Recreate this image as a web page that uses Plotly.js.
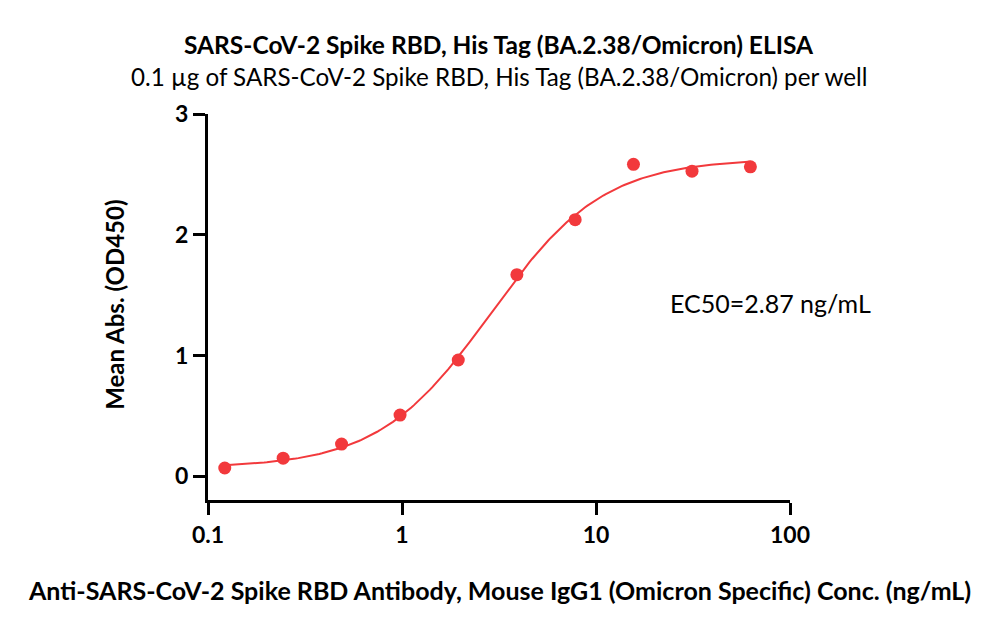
<!DOCTYPE html>
<html>
<head>
<meta charset="utf-8">
<script src="https://cdn.plot.ly/plotly-3.0.1.min.js"></script>
<style>html,body{margin:0;padding:0;background:#fff;}#chart{width:1000px;height:632px;}</style>
</head>
<body>
<div id="chart"></div>
<script>
// Measured data (concentration in ng/mL, mean OD450)
const concentrations = [0.122, 0.244, 0.488, 0.977, 1.95, 3.91, 7.81, 15.6, 31.25, 62.5];
const meanAbs = [0.069, 0.15, 0.267, 0.507, 0.963, 1.67, 2.125, 2.583, 2.527, 2.563];
// 4PL fit parameters
const fitBottom = 0.07;
const fitTop = 2.63;
const fitEC50 = 2.87;
const fitHill = 1.5;
const xTickVals = [0.1, 1, 10, 100];
const xTickText = ['0.1', '1', '10', '100'];
const yTickVals = [0, 1, 2, 3];

const fitX = [], fitY = [];
const n = 200;
const lo = Math.log10(concentrations[0]), hi = Math.log10(concentrations[concentrations.length - 1]);
for (let i = 0; i <= n; i++) {
  const x = Math.pow(10, lo + (hi - lo) * i / n);
  fitX.push(x);
  fitY.push(fitBottom + (fitTop - fitBottom) / (1 + Math.pow(fitEC50 / x, fitHill)));
}

const red = '#f2393c';
const font = 'Lato, "Open Sans", sans-serif';
const traces = [
  {x: fitX, y: fitY, mode: 'lines', line: {color: red, width: 2}, hoverinfo: 'skip', showlegend: false},
  {x: concentrations, y: meanAbs, mode: 'markers', marker: {color: red, size: 13}, showlegend: false}
];

const layout = {
  width: 1000, height: 632,
  margin: {l: 208, r: 210, t: 114, b: 132},
  paper_bgcolor: '#fff', plot_bgcolor: '#fff',
  font: {family: font, color: '#000'},
  xaxis: {
    type: 'log', range: [-1, 2],
    tickvals: xTickVals, ticktext: xTickText,
    showgrid: false, zeroline: false,
    showline: true, linecolor: '#000', linewidth: 3,
    ticks: 'outside', ticklen: 12, tickwidth: 3, tickcolor: '#000',
    tickfont: {family: font, size: 23, color: '#000', weight: 'bold'}
  },
  yaxis: {
    range: [-0.196, 3],
    tickvals: yTickVals,
    showgrid: false, zeroline: false,
    showline: true, linecolor: '#000', linewidth: 3,
    ticks: 'outside', ticklen: 12, tickwidth: 3, tickcolor: '#000',
    tickfont: {family: font, size: 23, color: '#000', weight: 'bold'}
  },
  annotations: [
    {text: '<b>SARS-CoV-2 Spike RBD, His Tag (BA.2.38/Omicron) ELISA</b>', xref: 'paper', yref: 'paper',
     x: 0.5, y: 1.181, xanchor: 'center', yanchor: 'middle', showarrow: false,
     font: {family: font, size: 24.5, color: '#000'}},
    {text: '0.1 µg of SARS-CoV-2 Spike RBD, His Tag (BA.2.38/Omicron) per well', xref: 'paper', yref: 'paper',
     x: 0.5, y: 1.096, xanchor: 'center', yanchor: 'middle', showarrow: false,
     font: {family: font, size: 24.2, color: '#000'}},
    {text: '<b>Anti-SARS-CoV-2 Spike RBD Antibody, Mouse IgG1 (Omicron Specific) Conc. (ng/mL)</b>', xref: 'paper', yref: 'paper',
     x: 0.5, y: -0.233, xanchor: 'center', yanchor: 'middle', showarrow: false,
     font: {family: font, size: 25, color: '#000'}},
    {text: '<b>Mean Abs. (OD450)</b>', xref: 'paper', yref: 'paper', textangle: -90,
     x: -0.162, y: 0.505, xanchor: 'center', yanchor: 'middle', showarrow: false,
     font: {family: font, size: 24, color: '#000'}},
    {text: 'EC50=2.87 ng/mL', xref: 'paper', yref: 'paper',
     x: 0.967, y: 0.51, xanchor: 'center', yanchor: 'middle', showarrow: false,
     font: {family: font, size: 25, color: '#000'}}
  ]
};

Plotly.newPlot('chart', traces, layout, {displayModeBar: false, staticPlot: true});
</script>
</body>
</html>
